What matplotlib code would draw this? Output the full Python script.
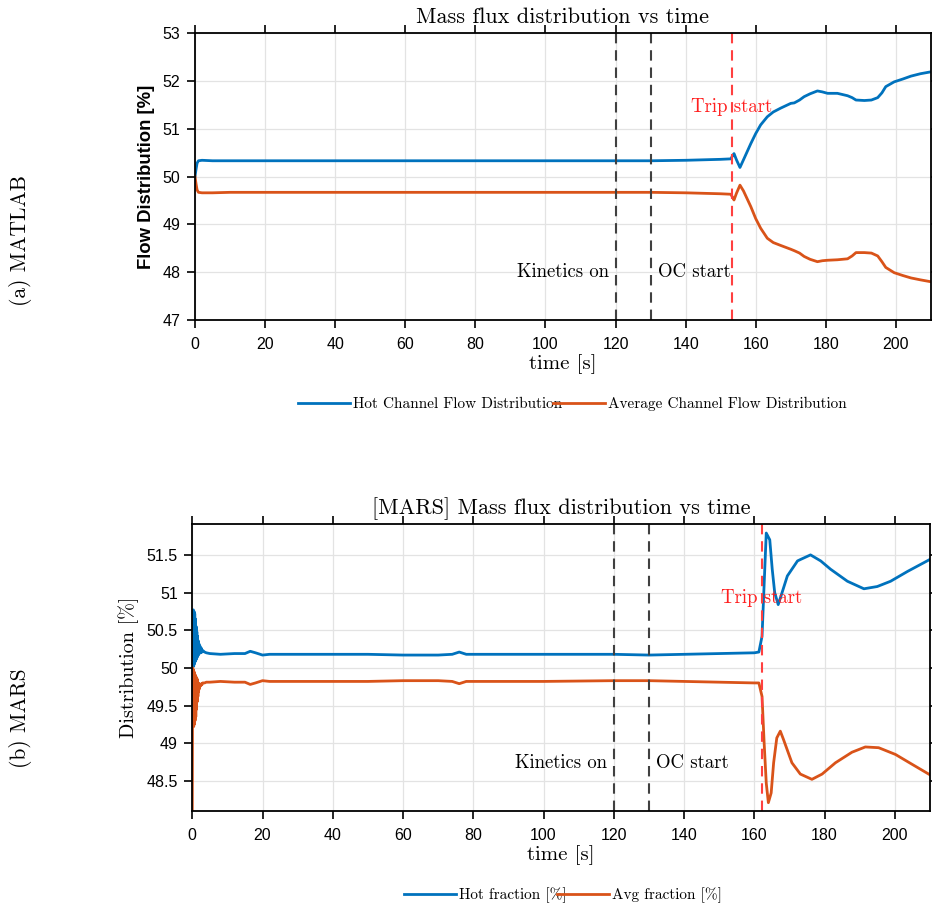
import matplotlib
matplotlib.use("Agg")
import matplotlib.pyplot as plt

# ---------------- data: (a) MATLAB ----------------
t_a = [0, 0.3, 0.6, 1.0, 2, 5, 10, 40, 80, 120, 130, 140, 150, 152.9, 153.5, 153.8, 154.5, 155.5,
       156.5, 158.6, 160, 161.4, 163.3, 165, 167.1, 170, 171, 172.5, 173.8, 175.5, 177.6, 179, 180.5,
       183.3, 186.2, 187.5, 188.6, 191, 193, 194.8, 196, 197.1, 199.5, 202, 204.3, 207, 210]
hot_a = [50.0, 50.15, 50.28, 50.33, 50.34, 50.33, 50.33, 50.33, 50.33, 50.33, 50.33, 50.34, 50.36, 50.37,
         50.45, 50.48, 50.35, 50.19, 50.35, 50.69, 50.9, 51.08, 51.25, 51.35, 51.43, 51.53, 51.54,
         51.6, 51.67, 51.73, 51.79, 51.77, 51.74, 51.74, 51.69, 51.65, 51.6, 51.59, 51.6, 51.65, 51.75,
         51.88, 51.98, 52.04, 52.1, 52.15, 52.19]
avg_a = [50.0, 49.85, 49.72, 49.67, 49.66, 49.66, 49.67, 49.67, 49.67, 49.67, 49.67, 49.66, 49.64, 49.63,
         49.55, 49.51, 49.65, 49.82, 49.7, 49.37, 49.12, 48.92, 48.71, 48.62, 48.56, 48.48, 48.45,
         48.4, 48.33, 48.27, 48.22, 48.24, 48.25, 48.26, 48.28, 48.34, 48.41, 48.41, 48.4, 48.34, 48.22,
         48.1, 47.99, 47.93, 47.88, 47.84, 47.8]

# ---------------- data: (b) MARS ----------------
t_b = [0, 0.1, 0.2, 0.3, 0.4, 0.5, 0.6, 0.7, 0.8, 0.9, 1.0, 1.1, 1.2, 1.3, 1.4, 1.5, 1.6, 1.7, 1.8,
       1.9, 2.0, 2.2, 2.4, 2.6, 2.8, 3.0, 3.5, 4.0, 5, 8, 12, 15, 16.5, 18, 20, 22, 25, 30, 40, 50, 60,
       70, 74, 76, 78, 85, 100, 120, 130, 140, 150, 160, 161.3, 162.2, 162.7, 163.4, 164.4, 165.1, 165.8,
       166.8, 167.5, 169.4, 172.3, 173.2, 176.0, 178.9, 181.7, 186.5, 191.2, 195.0, 198.8, 203.6, 210]
hot_b = [50.0, 50.7, 50.05, 50.77, 50.02, 50.75, 50.05, 50.72, 50.08, 50.65, 50.1, 50.55, 50.12, 50.48,
         50.14, 50.42, 50.16, 50.36, 50.18, 50.32, 50.19, 50.29, 50.2, 50.26, 50.21, 50.23, 50.21,
         50.2, 50.19, 50.18, 50.19, 50.19, 50.22, 50.2, 50.17, 50.18, 50.18, 50.18, 50.18, 50.18,
         50.17, 50.17, 50.18, 50.21, 50.18, 50.18, 50.18, 50.18, 50.17, 50.18, 50.19, 50.2, 50.21,
         50.42, 51.0, 51.79, 51.7, 51.31, 51.0, 50.84, 50.94, 51.22, 51.42, 51.44, 51.5, 51.42, 51.31,
         51.15, 51.05, 51.08, 51.15, 51.28, 51.44]
t_b_avg = [0, 0.1, 0.2, 0.3, 0.4, 0.5, 0.6, 0.7, 0.8, 0.9, 1.0, 1.1, 1.2, 1.3, 1.4, 1.5, 1.6, 1.7, 1.8,
           1.9, 2.0, 2.2, 2.4, 2.6, 2.8, 3.0, 3.5, 4.0, 5, 8, 12, 15, 16.5, 18, 20, 22, 25, 30, 40, 50,
           60, 70, 74, 76, 78, 85, 100, 120, 130, 140, 150, 160, 161.3, 162.2, 162.8, 163.4, 164.0,
           164.8, 165.5, 166.4, 167.4, 168.3, 170.7, 173.1, 176.4, 179.3, 183.1, 187.8, 191.6, 195.4,
           200.2, 204.9, 210]
avg_b = [48.1, 50.0, 49.25, 49.98, 49.22, 49.95, 49.25, 49.92, 49.3, 49.9, 49.35, 49.88, 49.45, 49.86,
         49.55, 49.84, 49.62, 49.8, 49.68, 49.79, 49.72, 49.78, 49.76, 49.79, 49.78, 49.8, 49.8,
         49.81, 49.81, 49.82, 49.81, 49.81, 49.78, 49.8, 49.83, 49.82, 49.82, 49.82, 49.82, 49.82,
         49.83, 49.83, 49.82, 49.79, 49.82, 49.82, 49.82, 49.83, 49.83, 49.82, 49.81, 49.8, 49.8,
         49.62, 49.0, 48.47, 48.21, 48.34, 48.74, 49.07, 49.16, 49.05, 48.74, 48.59, 48.52, 48.59,
         48.74, 48.88, 48.95, 48.94, 48.85, 48.72, 48.58]

kinetics_on = 120
oc_start = 130
trip_a = 153.1
trip_b = 162.2

BLUE = "#0072BD"
ORANGE = "#D95319"
SERIF = ["cmr10", "DejaVu Serif"]
SANS = ["Liberation Sans", "DejaVu Sans"]

plt.rcParams["axes.unicode_minus"] = False
plt.rcParams["mathtext.fontset"] = "cm"

fig = plt.figure(figsize=(9.32, 9.11), dpi=100)
ax1 = fig.add_axes([0.2092, 0.6487, 0.7897, 0.3150])
ax2 = fig.add_axes([0.2063, 0.1098, 0.7915, 0.3150])


def style(ax):
    ax.grid(True, color="#e3e3e3", lw=0.9)
    ax.set_axisbelow(True)
    for s in ax.spines.values():
        s.set_linewidth(1.3)
        s.set_color("black")
    ax.tick_params(direction="out", length=5.5, width=1.2, top=True, right=True,
                   labelsize=11.5, colors="black")
    ax.tick_params(axis="x", pad=7)
    ax.tick_params(axis="y", pad=5)
    for lab in ax.get_xticklabels() + ax.get_yticklabels():
        lab.set_family(SANS)
    ax.set_xlim(0, 210)
    ax.set_xticks(range(0, 201, 20))


DASH = (0, (5, 3.3))

# (a)
l1, = ax1.plot(t_a, hot_a, color=BLUE, lw=2.0, label="Hot Channel Flow Distribution")
l2, = ax1.plot(t_a, avg_a, color=ORANGE, lw=2.0, label="Average Channel Flow Distribution")
ax1.axvline(kinetics_on, color="#404040", ls=DASH, lw=1.5)
ax1.axvline(oc_start, color="#404040", ls=DASH, lw=1.5)
ax1.axvline(trip_a, color="#FF4040", ls=DASH, lw=1.5)
ax1.set_ylim(47, 53)
style(ax1)
ax1.text(118, 48.0, "Kinetics on", ha="right", va="center", fontsize=13.5, family=SERIF)
ax1.text(132, 48.0, "OC start", ha="left", va="center", fontsize=13.5, family=SERIF)
ax1.text(trip_a, 51.45, "Trip start", ha="center", va="center", fontsize=13.5, color="#FF2020", family=SERIF)
ax1.set_title("Mass flux distribution vs time", fontsize=16, family=SERIF, pad=7)
ax1.set_xlabel("time [s]", fontsize=15, family=SERIF, labelpad=1)
ax1.set_ylabel("Flow Distribution [%]", fontsize=13.3, family=SANS, fontweight="bold", labelpad=5)
fig.legend(handles=[l1, l2], loc="center", bbox_to_anchor=(0.614, 0.5565), ncol=2, frameon=False,
           prop={"family": SERIF, "size": 11}, handlelength=3.4, handletextpad=0.2, columnspacing=-0.6)
fig.text(0.022, 0.736, "(a) MATLAB", rotation=90, ha="center", va="center", fontsize=15.5, family=SERIF)

# (b)
m1, = ax2.plot(t_b, hot_b, color=BLUE, lw=2.0, label="Hot fraction [%]")
m2, = ax2.plot(t_b_avg, avg_b, color=ORANGE, lw=2.0, label="Avg fraction [%]")
ax2.axvline(kinetics_on, color="#404040", ls=DASH, lw=1.5)
ax2.axvline(oc_start, color="#404040", ls=DASH, lw=1.5)
ax2.axvline(trip_b, color="#FF4040", ls=DASH, lw=1.5)
ax2.set_ylim(48.1, 51.91)
ax2.set_yticks([48.5, 49, 49.5, 50, 50.5, 51, 51.5])
ax2.set_yticklabels(["48.5", "49", "49.5", "50", "50.5", "51", "51.5"])
style(ax2)
ax2.text(118, 48.73, "Kinetics on", ha="right", va="center", fontsize=13.5, family=SERIF)
ax2.text(132, 48.73, "OC start", ha="left", va="center", fontsize=13.5, family=SERIF)
ax2.text(trip_b, 50.93, "Trip start", ha="center", va="center", fontsize=13.5, color="#FF2020", family=SERIF)
ax2.set_title("[MARS] Mass flux distribution vs time", fontsize=16, family=SERIF, pad=7)
ax2.set_xlabel("time [s]", fontsize=15, family=SERIF, labelpad=1)
ax2.set_ylabel("Distribution [%]", fontsize=14.5, family=SERIF, labelpad=5)
fig.legend(handles=[m1, m2], loc="center", bbox_to_anchor=(0.604, 0.0176), ncol=2, frameon=False,
           prop={"family": SERIF, "size": 11}, handlelength=3.4, handletextpad=0.2, columnspacing=-0.6)
fig.text(0.022, 0.212, "(b) MARS", rotation=90, ha="center", va="center", fontsize=15.5, family=SERIF)

fig.savefig("out.png", dpi=100)
